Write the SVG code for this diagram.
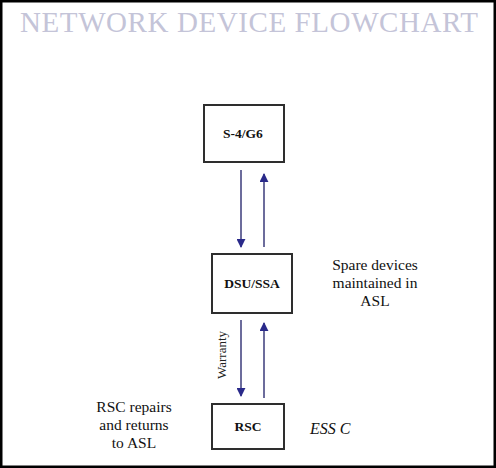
<svg xmlns="http://www.w3.org/2000/svg" width="496" height="468" viewBox="0 0 496 468">
<style>
.box{fill:#ffffff;stroke:#2e2e2e;stroke-width:2}
.lbl{font-family:"Liberation Serif",serif;font-weight:bold;font-size:13.5px;fill:#111;text-anchor:middle}
.note{font-family:"Liberation Serif",serif;font-size:15.5px;fill:#111;text-anchor:middle}
.conn{stroke:#6c6c9c;stroke-width:2;fill:none}
</style>
<defs>
<marker id="ah" viewBox="0 0 10 10" refX="9" refY="5" markerWidth="4.5" markerHeight="4.5" orient="auto" markerUnits="strokeWidth">
<path d="M0,0 L10,5 L0,10 z" fill="#2a2a8a"/>
</marker>
</defs>
<rect x="1" y="1" width="494" height="466" fill="#ffffff" stroke="#000" stroke-width="3"/>
<text x="249" y="32" font-family="Liberation Serif,serif" font-size="29" fill="#c4c4d8" text-anchor="middle" textLength="458" lengthAdjust="spacing">NETWORK DEVICE FLOWCHART</text>
<g id="connectors">
<line class="conn" x1="241" y1="170" x2="241" y2="247" marker-end="url(#ah)"/>
<line class="conn" x1="264" y1="247" x2="264" y2="174" marker-end="url(#ah)"/>
<line class="conn" x1="241" y1="320" x2="241" y2="396" marker-end="url(#ah)"/>
<line class="conn" x1="264" y1="398" x2="264" y2="323" marker-end="url(#ah)"/>
<text x="226" y="355" font-family="Liberation Serif,serif" font-size="13" fill="#222" text-anchor="middle" transform="rotate(-90 226 355)">Warranty</text>
</g>
<g id="s4g6">
<rect class="box" x="204" y="105" width="80" height="57"/>
<text class="lbl" x="243" y="138">S-4/G6</text>
</g>
<g id="dsussa">
<rect class="box" x="212" y="254" width="80" height="59"/>
<text class="lbl" x="252" y="288">DSU/SSA</text>
</g>
<g id="rsc">
<rect class="box" x="212" y="404" width="72" height="45"/>
<text class="lbl" x="248" y="431">RSC</text>
</g>
<g id="spare-note">
<text class="note" x="375" y="270">Spare devices</text>
<text class="note" x="375" y="288">maintained in</text>
<text class="note" x="375" y="306">ASL</text>
</g>
<g id="rsc-note">
<text class="note" x="134" y="412">RSC repairs</text>
<text class="note" x="134" y="430">and returns</text>
<text class="note" x="134" y="448">to ASL</text>
</g>
<g id="essc">
<text x="310" y="434" font-family="Liberation Serif,serif" font-style="italic" font-size="16" fill="#111">ESS C</text>
</g>
</svg>
